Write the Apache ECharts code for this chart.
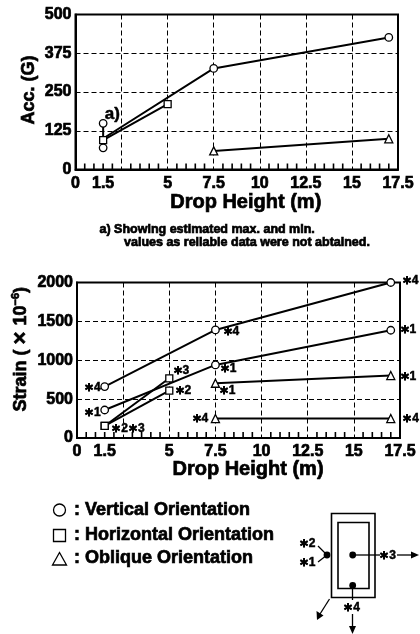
<!DOCTYPE html>
<html><head><meta charset="utf-8">
<style>html,body{margin:0;padding:0;background:#fff}#c{width:420px;height:634px}</style>
<script src="https://cdn.jsdelivr.net/npm/echarts@6/dist/echarts.min.js"></script></head>
<body><div id="c"></div>
<script>
const xTickLabels = [0, 1.5, 5, 7.5, 10, 12.5, 15, 17.5];
const xSmallTicks = [0.5, 1, 1.5, 2, 3, 3.5, 4, 4.5, 5.5, 6, 6.5, 7, 8, 8.5, 9, 9.5, 10.5, 11, 11.5, 12,
  13, 13.5, 14, 14.5, 15.5, 16, 16.5, 17];
// Acceleration chart
const accVertical = [[1.5, 100], [7.5, 326], [17, 426]];
const accVerticalRange = [[1.5, 149], [1.5, 70]];
const accHorizontal = [[1.5, 95], [5, 211]];
const accOblique = [[7.5, 60], [17, 99]];
const accNotes = [[2, 179, 'a)']];
// Strain chart
const strainVert4 = [[1.5, 661], [7.5, 1390], [17, 2000]];
const strainVert1 = [[1.5, 360], [7.5, 940], [17, 1386]];
const strainHoriz3 = [[1.5, 155], [5, 768]];
const strainHoriz2 = [[1.5, 155], [5, 610]];
const strainObl1 = [[7.5, 704], [17, 803]];
const strainObl4 = [[7.5, 250], [17, 250]];
const strainNotes = [
  [0.83, 648, '∗4'], [0.83, 331, '∗1'], [2.76, 120, '∗2∗3'], [5.63, 867, '∗3'], [5.74, 609, '∗2'],
  [8.34, 1365, '∗4'], [8.18, 897, '∗1'], [8.13, 609, '∗1'], [6.66, 245, '∗4'],
  [18.04, 2018, '∗4'], [17.93, 1390, '∗1'], [17.93, 790, '∗1'], [18.07, 245, '∗4']
];
const legendItems = ['Vertical Orientation', 'Horizontal Orientation', 'Oblique Orientation'];

const FF = '"Liberation Sans", Arial, sans-serif';
const BW = 0.7;
const heavy = {fontFamily: FF, fontWeight: 'bold', color: '#000', textBorderColor: '#000', textBorderWidth: BW};

function xAxis(i, pad, gap) {
  return {
    gridIndex: i, type: 'value', position: 'bottom', min: 0, max: 17.5, interval: 2.5,
    name: 'Drop Height (m)', nameLocation: 'middle', nameGap: gap, nameMoveOverlap: false,
    nameTextStyle: Object.assign({}, heavy, {fontSize: 20, padding: [0, 0, 0, pad]}),
    axisLine: {show: true, onZero: false, lineStyle: {color: '#000', width: 2}},
    axisTick: {show: false},
    axisLabel: Object.assign({customValues: xTickLabels, margin: 6, fontSize: 16, hideOverlap: false,
      showMinLabel: true, showMaxLabel: true}, heavy),
    splitLine: {show: true, lineStyle: {color: '#000', width: 1, type: [5, 3]}}
  };
}
function yAxis(i, max, interval, name, gap, pad, rich) {
  const ts = Object.assign({}, heavy, {fontSize: 18, padding: [0, 0, 0, pad]});
  if (rich) ts.rich = rich;
  return {
    gridIndex: i, type: 'value', min: 0, max: max, interval: interval,
    name: name, nameLocation: 'middle', nameGap: gap, nameMoveOverlap: false, nameTextStyle: ts,
    axisLine: {show: true, onZero: false, lineStyle: {color: '#000', width: 2}},
    axisTick: {show: false},
    axisLabel: Object.assign({margin: 4, fontSize: 16, formatter: v => String(v)}, heavy),
    splitLine: {show: true, lineStyle: {color: '#000', width: 1, type: [5, 3]}}
  };
}
function line(i, data, symbol, size, firstHidden) {
  return {
    type: 'line', xAxisIndex: i, yAxisIndex: i, clip: false, z: 5,
    symbol: symbol, symbolSize: size, showAllSymbol: true,
    data: data.map((d, k) => (firstHidden && k === 0) ? {value: d, symbol: 'none'} : d),
    lineStyle: {color: '#000', width: 2},
    itemStyle: {color: '#fff', borderColor: '#000', borderWidth: 1.3, opacity: 1}
  };
}
function notes(i, data, size) {
  return {
    type: 'scatter', xAxisIndex: i, yAxisIndex: i, clip: false, symbolSize: 0.01, z: 6,
    itemStyle: {opacity: 1},
    data: data.map(d => ({value: [d[0], d[1]], label: {show: true, formatter: d[2]}})),
    label: Object.assign({show: true, position: 'inside', fontSize: size}, heavy, {textBorderWidth: 0.5})
  };
}
// small upward ticks along the x axis
function ticks(i) {
  return {
    type: 'scatter', xAxisIndex: i, yAxisIndex: i, clip: false, z: 3,
    symbol: 'rect', symbolSize: [1.6, 6], symbolOffset: [0, -3],
    itemStyle: {color: '#000', opacity: 1},
    data: xSmallTicks.map(v => [v, 0])
  };
}

const tTxt = (x, y, text, size, extra) => ({type: 'text', x, y, silent: true,
  style: Object.assign({text, fontSize: size, fontFamily: FF, fontWeight: 'bold', fill: '#000',
    stroke: '#000', lineWidth: BW, verticalAlign: 'middle', align: 'left'}, extra || {})});
const seg = (x1, y1, x2, y2, w) => ({type: 'line', shape: {x1, y1, x2, y2}, silent: true, style: {stroke: '#000', lineWidth: w || 1.3}});
const tri = (pts) => ({type: 'polygon', shape: {points: pts}, silent: true, style: {fill: '#000'}});
const dot = (cx, cy) => ({type: 'circle', shape: {cx, cy, r: 3.4}, silent: true, style: {fill: '#000'}});
const ctr = {align: 'center', lineWidth: 0.5};

const graphic = [
  tTxt(99.5, 230, 'a) Showing estimated max. and min.', 12.5),
  tTxt(124, 243, 'values as reliable data were not abtained.', 12.5),
  {type: 'circle', shape: {cx: 59.5, cy: 510, r: 6}, silent: true, style: {fill: '#fff', stroke: '#000', lineWidth: 1.3}},
  {type: 'rect', shape: {x: 53.5, y: 529.5, width: 12, height: 12}, silent: true, style: {fill: '#fff', stroke: '#000', lineWidth: 1.3}},
  {type: 'polygon', shape: {points: [[59.5, 552.5], [66.5, 565], [52.5, 565]]}, silent: true, style: {fill: '#fff', stroke: '#000', lineWidth: 1.3}},
  tTxt(74, 510, ': ' + legendItems[0], 18),
  tTxt(74, 535, ': ' + legendItems[1], 18),
  tTxt(74, 558, ': ' + legendItems[2], 18),
  {type: 'rect', shape: {x: 331.5, y: 513.5, width: 43.5, height: 84}, silent: true, style: {fill: 'none', stroke: '#000', lineWidth: 1.6}},
  {type: 'rect', shape: {x: 338, y: 522.5, width: 31, height: 66}, silent: true, style: {fill: 'none', stroke: '#000', lineWidth: 1.6}},
  dot(327, 555), dot(352.7, 555), dot(352.7, 585.5),
  seg(318, 546, 327, 555), seg(318, 562, 327, 555),
  seg(352.7, 555, 380, 555), seg(397, 555, 412, 555), tri([[411, 551.5], [419, 555], [411, 558.5]]),
  seg(352.5, 585, 352.5, 600), seg(352.5, 614, 352.5, 628), tri([[349, 626], [356, 626], [352.5, 634]]),
  seg(329.5, 599, 320, 614), tri([[316.5, 611], [323.5, 615.5], [317, 620]]),
  tTxt(307, 544, '∗2', 12, ctr), tTxt(307, 563, '∗1', 12, ctr),
  tTxt(387.5, 556, '∗3', 12, ctr), tTxt(351.5, 607.5, '∗4', 12, ctr)
];

const gridBase = {show: true, borderColor: '#000', borderWidth: 2, backgroundColor: 'transparent', outerBoundsMode: 'none', containLabel: false};
const option = {
  animation: false,
  backgroundColor: '#fff',
  grid: [
    Object.assign({left: 75.5, top: 14.5, width: 322.5, height: 155}, gridBase),
    Object.assign({left: 77, top: 282.5, width: 323, height: 155.5}, gridBase)
  ],
  xAxis: [xAxis(0, 18, 23), xAxis(1, 19, 21)],
  yAxis: [
    yAxis(0, 500, 125, 'Acc. (G)', 37, 4),
    yAxis(1, 2000, 500, '{a|Strain ( }{b|× }{a|10}{s|−6}{a|)}', 45, 22, {
      a: {fontSize: 18, fontFamily: FF, fontWeight: 'bold', color: '#000', textBorderColor: '#000', textBorderWidth: BW},
      b: {fontSize: 22, fontFamily: FF, fontWeight: 'bold', color: '#000', textBorderColor: '#000', textBorderWidth: BW},
      s: {fontSize: 11, fontFamily: FF, fontWeight: 'bold', color: '#000', verticalAlign: 'top'}
    })
  ],
  graphic: {elements: graphic},
  series: [
    ticks(0), ticks(1),
    line(0, accVerticalRange, 'circle', 7.5),
    line(0, accVertical, 'circle', 7.5, true),
    line(0, accHorizontal, 'rect', 7),
    line(0, accOblique, 'triangle', 8),
    notes(0, accNotes, 17),
    line(1, strainVert4, 'circle', 7.5),
    line(1, strainVert1, 'circle', 7.5),
    line(1, strainHoriz3, 'rect', 7),
    line(1, strainHoriz2, 'rect', 7),
    line(1, strainObl1, 'triangle', 8),
    line(1, strainObl4, 'triangle', 8),
    notes(1, strainNotes, 12)
  ]
};
echarts.init(document.getElementById('c'), null, {renderer: 'canvas'}).setOption(option);
</script></body></html>
